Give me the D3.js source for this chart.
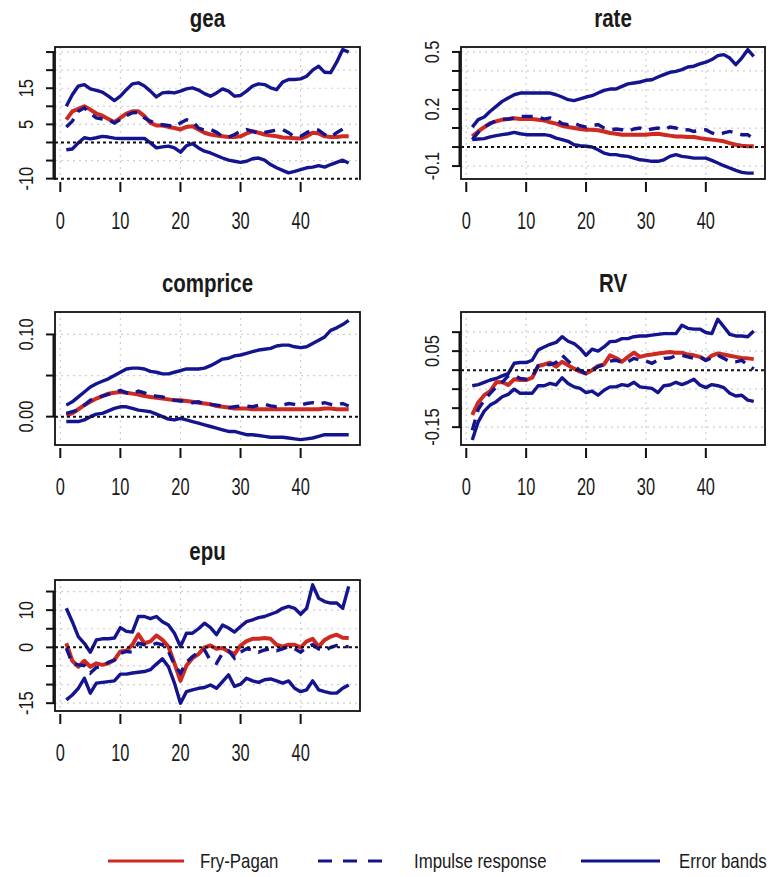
<!DOCTYPE html>
<html>
<head>
<meta charset="utf-8">
<script src="https://cdn.jsdelivr.net/npm/d3@7"></script>
<style>
  html, body { margin: 0; padding: 0; background: #ffffff; }
  svg { display: block; }
</style>
</head>
<body>
<svg id="chart" width="775" height="877"></svg>
<script>
// Horizons of the impulse responses
const horizon = d3.range(1, 49);
const xTicks = [0, 10, 20, 30, 40];

// ---- gea ----
const geaUpper = [10.0,13.2,15.6,16.0,14.8,14.4,13.9,12.8,11.6,12.8, 14.6,16.2,16.5,15.6,14.2,12.6,13.7,13.9,13.7,14.2, 14.8,15.1,14.5,13.5,12.8,13.7,14.8,14.2,12.8,13.0, 14.2,15.6,16.2,16.0,15.1,14.6,16.7,17.4,17.4,17.6, 18.3,20.0,21.1,19.4,19.3,22.2,25.7,25.0];
const geaLower = [-2.0,-1.8,-0.1,1.3,1.0,1.3,1.7,1.5,1.2,1.1, 1.1,1.1,1.1,1.1,-0.1,-1.5,-1.2,-1.0,-1.5,-2.7, -0.9,-0.3,-1.5,-2.4,-2.9,-3.6,-4.3,-4.9,-5.2,-5.5, -5.2,-4.5,-4.3,-4.9,-6.1,-7.0,-7.7,-8.4,-8.0,-7.5, -7.0,-6.8,-6.4,-6.8,-6.1,-5.5,-4.9,-5.7];
const geaFryPagan = [6.3,8.6,9.3,10.0,9.1,8.0,7.4,6.5,5.6,6.8, 8.0,8.6,8.6,7.3,5.4,4.7,4.7,4.3,4.0,3.6, 4.3,4.5,3.6,2.7,2.2,1.9,1.7,1.5,1.5,1.7, 2.5,3.1,2.7,2.2,1.9,1.7,1.4,1.3,1.2,1.1, 1.7,2.7,2.5,1.7,1.5,1.5,1.7,1.7];
const geaImpulse = [4.3,5.9,8.6,9.6,8.0,6.8,6.5,6.3,5.4,6.3, 7.4,8.2,8.3,6.8,5.9,5.1,4.9,4.7,4.3,5.4, 6.3,5.9,4.0,3.4,3.6,2.8,1.7,1.5,2.2,3.1, 3.6,3.1,2.5,2.8,3.1,3.4,3.6,2.7,1.5,1.7, 2.7,3.6,3.4,2.2,1.5,2.7,3.7,3.1];
const geaYTicks = [-10, -5, 0, 5, 10, 15, 20, 25];
const geaYLabels = [-10, 5, 15];

// ---- rate ----
const rateUpper = [0.105,0.144,0.158,0.188,0.214,0.240,0.258,0.275,0.284,0.284, 0.284,0.284,0.284,0.284,0.275,0.263,0.249,0.244,0.253,0.263, 0.270,0.284,0.298,0.305,0.305,0.319,0.332,0.337,0.342,0.351, 0.354,0.368,0.381,0.393,0.398,0.407,0.421,0.425,0.437,0.446, 0.460,0.481,0.486,0.468,0.433,0.468,0.512,0.477];
const rateLower = [0.039,0.042,0.044,0.053,0.060,0.065,0.070,0.077,0.070,0.065, 0.065,0.065,0.065,0.060,0.047,0.039,0.030,0.012,0.007,0.004, 0.000,-0.014,-0.032,-0.040,-0.040,-0.046,-0.049,-0.058,-0.067,-0.070, -0.075,-0.075,-0.067,-0.049,-0.040,-0.049,-0.053,-0.058,-0.058,-0.058, -0.070,-0.084,-0.098,-0.110,-0.123,-0.133,-0.137,-0.137];
const rateFryPagan = [0.056,0.082,0.105,0.126,0.135,0.144,0.147,0.151,0.147,0.147, 0.147,0.144,0.140,0.130,0.123,0.112,0.105,0.100,0.095,0.091, 0.091,0.088,0.082,0.074,0.070,0.065,0.065,0.065,0.065,0.065, 0.068,0.070,0.065,0.060,0.056,0.056,0.053,0.053,0.047,0.042, 0.039,0.035,0.030,0.021,0.012,0.007,0.004,0.004];
const rateImpulse = [0.039,0.077,0.105,0.123,0.140,0.147,0.147,0.153,0.161,0.161, 0.161,0.158,0.147,0.153,0.144,0.123,0.118,0.126,0.112,0.105, 0.112,0.118,0.100,0.091,0.095,0.091,0.082,0.095,0.100,0.088, 0.095,0.100,0.091,0.105,0.100,0.088,0.091,0.082,0.088,0.091, 0.074,0.065,0.074,0.082,0.074,0.065,0.065,0.042];
const rateYTicks = [-0.1, 0, 0.1, 0.2, 0.3, 0.4, 0.5];
const rateYLabels = [-0.1, 0.2, 0.5];

// ---- comprice ----
const compriceUpper = [0.014,0.018,0.024,0.030,0.036,0.040,0.043,0.046,0.050,0.054, 0.058,0.059,0.059,0.058,0.055,0.054,0.052,0.052,0.054,0.056, 0.058,0.058,0.058,0.059,0.062,0.066,0.070,0.071,0.074,0.075, 0.077,0.079,0.081,0.082,0.083,0.086,0.087,0.087,0.085,0.084, 0.085,0.089,0.093,0.097,0.105,0.108,0.112,0.117];
const compriceLower = [-0.006,-0.006,-0.006,-0.004,0.000,0.003,0.004,0.007,0.010,0.012, 0.012,0.010,0.008,0.007,0.006,0.003,0.000,-0.003,-0.004,-0.002, -0.004,-0.006,-0.008,-0.010,-0.012,-0.014,-0.016,-0.018,-0.018,-0.020, -0.022,-0.022,-0.023,-0.024,-0.025,-0.025,-0.025,-0.026,-0.027,-0.028, -0.027,-0.026,-0.024,-0.022,-0.022,-0.022,-0.022,-0.022];
const compriceFryPagan = [0.002,0.004,0.009,0.014,0.018,0.022,0.025,0.028,0.029,0.030, 0.029,0.028,0.027,0.025,0.024,0.023,0.022,0.021,0.020,0.020, 0.019,0.018,0.017,0.016,0.015,0.013,0.012,0.011,0.010,0.010, 0.010,0.009,0.009,0.009,0.009,0.009,0.009,0.009,0.009,0.009, 0.009,0.009,0.009,0.010,0.010,0.009,0.009,0.009];
const compriceImpulse = [0.004,0.006,0.008,0.014,0.020,0.023,0.025,0.027,0.029,0.032, 0.029,0.028,0.031,0.029,0.026,0.025,0.024,0.022,0.020,0.019, 0.019,0.017,0.018,0.016,0.015,0.014,0.013,0.011,0.012,0.013, 0.013,0.012,0.014,0.015,0.013,0.012,0.014,0.016,0.015,0.014, 0.016,0.017,0.015,0.017,0.015,0.014,0.016,0.013];
const compriceYTicks = [0, 0.05, 0.10];
const compriceYLabels = [0, 0.10];

// ---- RV ----
const rvUpper = [-0.041,-0.038,-0.032,-0.026,-0.022,-0.015,-0.009,0.018,0.020,0.020, 0.026,0.053,0.061,0.068,0.073,0.088,0.076,0.070,0.057,0.039, 0.055,0.050,0.061,0.075,0.076,0.083,0.083,0.088,0.090,0.090, 0.092,0.094,0.096,0.096,0.096,0.118,0.110,0.108,0.108,0.099, 0.096,0.134,0.114,0.094,0.090,0.090,0.088,0.103];
const rvLower = [-0.184,-0.136,-0.108,-0.092,-0.083,-0.070,-0.064,-0.050,-0.061,-0.061, -0.061,-0.041,-0.041,-0.035,-0.039,-0.020,-0.035,-0.044,-0.048,-0.059, -0.055,-0.066,-0.053,-0.044,-0.044,-0.038,-0.041,-0.032,-0.044,-0.046, -0.048,-0.059,-0.041,-0.039,-0.032,-0.038,-0.032,-0.024,-0.039,-0.046, -0.038,-0.041,-0.046,-0.061,-0.068,-0.066,-0.079,-0.082];
const rvFryPagan = [-0.118,-0.085,-0.066,-0.055,-0.032,-0.031,-0.039,-0.024,-0.026,-0.026, -0.020,0.011,0.015,0.020,0.009,0.022,0.013,0.004,-0.004,-0.009, 0.000,0.011,0.015,0.039,0.032,0.022,0.035,0.046,0.035,0.039, 0.041,0.044,0.046,0.048,0.046,0.046,0.041,0.039,0.035,0.026, 0.038,0.044,0.041,0.038,0.035,0.032,0.031,0.029];
const rvImpulse = [-0.158,-0.103,-0.079,-0.061,-0.044,-0.032,-0.015,-0.013,-0.022,-0.024, -0.018,0.011,0.015,0.015,0.020,0.039,0.024,0.011,-0.001,-0.009, 0.000,0.009,0.015,0.024,0.026,0.020,0.022,0.031,0.026,0.024, 0.018,0.026,0.031,0.032,0.038,0.039,0.035,0.031,0.035,0.026, 0.032,0.039,0.031,0.022,0.022,0.026,0.013,0.003];
const rvYTicks = [-0.15, -0.10, -0.05, 0, 0.05, 0.10];
const rvYLabels = [-0.15, 0.05];

// ---- epu ----
const epuUpper = [10.5,6.9,2.9,1.1,-1.3,2.0,2.3,2.3,2.5,5.3, 4.3,4.1,8.3,8.3,7.7,8.3,6.9,6.0,3.8,0.2, 3.8,3.8,5.0,6.5,5.3,3.4,6.0,5.2,4.1,5.6, 6.9,7.4,8.0,8.3,8.9,9.5,10.5,11.0,10.5,8.9, 10.5,16.8,13.2,12.3,11.9,11.9,10.5,16.4];
const epuLower = [-14.1,-12.8,-11.0,-8.3,-12.3,-9.6,-9.4,-9.2,-9.0,-7.2, -7.2,-6.9,-6.7,-6.5,-6.0,-4.5,-3.1,-5.2,-9.6,-15.0, -11.9,-11.4,-11.0,-10.8,-10.1,-11.0,-9.2,-7.4,-10.5,-9.9, -8.3,-9.0,-9.4,-8.7,-8.5,-9.0,-9.6,-9.0,-11.0,-11.9, -11.4,-9.0,-11.4,-11.9,-12.3,-12.3,-11.0,-10.1];
const epuFryPagan = [1.1,-3.6,-5.2,-3.6,-5.2,-4.3,-4.7,-4.3,-3.4,-1.1, -0.9,0.7,3.5,1.1,1.6,3.2,2.0,0.2,-4.3,-9.0, -4.9,-2.9,-1.8,0.0,0.5,-0.4,-0.2,-1.1,-1.8,0.5, 1.7,2.3,2.3,2.5,2.3,0.7,0.2,0.7,0.7,0.0, 1.6,2.3,0.2,2.0,2.9,3.4,2.6,2.5];
const epuImpulse = [-0.2,-4.3,-4.7,-4.9,-6.9,-5.4,-5.2,-4.0,-3.4,-1.6, -1.1,-1.3,1.1,0.7,0.5,1.1,0.7,-1.1,-4.7,-6.9, -4.0,-2.5,-1.3,-0.7,-3.6,-4.3,-1.6,-0.9,-2.9,-1.3, -0.4,-0.7,-1.3,-0.7,-0.4,-0.9,-0.4,0.2,-0.4,-1.3, 0.0,0.7,-0.4,-0.9,0.0,0.5,0.2,0.2];
const epuYTicks = [-15, -10, -5, 0, 5, 10, 15];
const epuYLabels = [-15, 0, 10];

// Legend entries
const legendLabels = ["Fry-Pagan", "Impulse response", "Error bands"];

// ---- styling ----
const RED = "#cf2a22";
const BLUE = "#14148f";
const FONT = "'Liberation Sans', Arial, Helvetica, sans-serif";
const NARROW = 0.82;   // horizontal compression giving a narrow sans face

const locale = d3.formatLocale({decimal: ".", thousands: ",", grouping: [3], currency: ["", ""], minus: "-"});

// Panel layout: plot frames in pixels
const cols = [[55, 360], [461, 765]];
const rows = [[47, 179], [312, 445], [580, 711]];

const panels = [
  {title: "gea", upper: geaUpper, lower: geaLower, fp: geaFryPagan, irf: geaImpulse,
   domain: [-10.1, 26.4], ticks: geaYTicks, labels: geaYLabels, fmt: locale.format("d"), refs: [0, -10], col: 0, row: 0},
  {title: "rate", upper: rateUpper, lower: rateLower, fp: rateFryPagan, irf: rateImpulse,
   domain: [-0.168, 0.526], ticks: rateYTicks, labels: rateYLabels, fmt: locale.format(".1f"), refs: [0], col: 1, row: 0},
  {title: "comprice", upper: compriceUpper, lower: compriceLower, fp: compriceFryPagan, irf: compriceImpulse,
   domain: [-0.0345, 0.1273], ticks: compriceYTicks, labels: compriceYLabels, fmt: locale.format(".2f"), refs: [0], col: 0, row: 1},
  {title: "RV", upper: rvUpper, lower: rvLower, fp: rvFryPagan, irf: rvImpulse,
   domain: [-0.197, 0.153], ticks: rvYTicks, labels: rvYLabels, fmt: locale.format(".2f"), refs: [0], col: 1, row: 1},
  {title: "epu", upper: epuUpper, lower: epuLower, fp: epuFryPagan, irf: epuImpulse,
   domain: [-17.1, 18.1], ticks: epuYTicks, labels: epuYLabels, fmt: locale.format("d"), refs: [0], col: 0, row: 2}
];

const svg = d3.select("#chart");
svg.append("rect").attr("width", 775).attr("height", 877).attr("fill", "#ffffff");

function addText(parent, x, y, str, opts) {
  const o = Object.assign({size: 20, weight: "normal", sx: NARROW, sy: 1, rotate: 0, anchor: "middle", fill: "#1a1a1a"}, opts);
  parent.append("text")
    .attr("transform", `translate(${x},${y}) rotate(${o.rotate}) scale(${o.sx},${o.sy})`)
    .attr("text-anchor", o.anchor)
    .attr("fill", o.fill)
    .style("font-family", FONT)
    .style("font-size", o.size + "px")
    .style("font-weight", o.weight)
    .text(str);
}

panels.forEach(p => {
  const [x0, x1] = cols[p.col];
  const [y0, y1] = rows[p.row];
  const x = d3.scaleLinear().domain([1 - 1.88, 48 + 1.88]).range([x0, x1]);
  const y = d3.scaleLinear().domain(p.domain).range([y1, y0]);
  const g = svg.append("g");

  // light dotted grid
  const grid = g.append("g").attr("stroke", "#cfcfcf").attr("stroke-width", 1.2).attr("stroke-dasharray", "2,4");
  xTicks.forEach(t => grid.append("line").attr("x1", x(t)).attr("x2", x(t)).attr("y1", y0).attr("y2", y1));
  p.ticks.forEach(t => grid.append("line").attr("x1", x0).attr("x2", x1).attr("y1", y(t)).attr("y2", y(t)));

  const line = vals => d3.line().x((d, i) => x(horizon[i])).y(d => y(d))(vals);

  // error bands
  [p.upper, p.lower].forEach(vals => {
    g.append("path").attr("d", line(vals)).attr("fill", "none")
      .attr("stroke", BLUE).attr("stroke-width", 3.4).attr("stroke-linejoin", "round");
  });
  // Fry-Pagan median target
  g.append("path").attr("d", line(p.fp)).attr("fill", "none")
    .attr("stroke", RED).attr("stroke-width", 4).attr("stroke-linejoin", "round");
  // impulse response
  g.append("path").attr("d", line(p.irf)).attr("fill", "none")
    .attr("stroke", BLUE).attr("stroke-width", 3.4).attr("stroke-dasharray", "11,8");

  // frame
  g.append("rect").attr("x", x0).attr("y", y0).attr("width", x1 - x0).attr("height", y1 - y0)
    .attr("fill", "none").attr("stroke", "#111").attr("stroke-width", 1.8);

  // dotted reference lines
  p.refs.forEach(v => {
    const yy = y(v);
    if (Math.abs(yy - y1) < 2) {
      g.append("line").attr("x1", x0 + 1).attr("x2", x1 - 1).attr("y1", y1).attr("y2", y1)
        .attr("stroke", "#ffffff").attr("stroke-width", 2.4);
    }
    g.append("line").attr("x1", x0).attr("x2", x1).attr("y1", Math.min(yy, y1)).attr("y2", Math.min(yy, y1))
      .attr("stroke", "#111").attr("stroke-width", 2).attr("stroke-dasharray", "3,3");
  });

  // x axis
  const ax = g.append("g").attr("stroke", "#111").attr("stroke-width", 2);
  xTicks.forEach(t => ax.append("line").attr("x1", x(t)).attr("x2", x(t)).attr("y1", y1 + 3).attr("y2", y1 + 13));
  xTicks.forEach(t => addText(g, x(t), y1 + 50, locale.format("d")(t), {size: 20, sy: 1.15}));

  // y axis
  const ay = g.append("g").attr("stroke", "#111").attr("stroke-width", 2);
  const tMin = d3.min(p.ticks), tMax = d3.max(p.ticks);
  ay.append("line").attr("x1", x0 - 1.5).attr("x2", x0 - 1.5).attr("y1", y(tMax)).attr("y2", Math.min(y(tMin), y1));
  p.ticks.forEach(t => ay.append("line").attr("x1", x0 - 9).attr("x2", x0).attr("y1", y(t)).attr("y2", y(t)));
  p.labels.forEach(t => addText(g, x0 - 22, y(t), p.fmt(t), {size: 20, rotate: -90}));

  // title
  addText(g, (x0 + x1) / 2, y0 - 20, p.title, {size: 25, weight: "bold"});
});

// legend
const lg = svg.append("g");
const legendY = 861;
const legendItems = [
  {x1: 108, x2: 184, tx: 200, color: RED, dash: null},
  {x1: 318, x2: 383, tx: 414, color: BLUE, dash: "14,11"},
  {x1: 581, x2: 660, tx: 679, color: BLUE, dash: null}
];
legendItems.forEach((it, i) => {
  lg.append("line").attr("x1", it.x1).attr("x2", it.x2).attr("y1", legendY).attr("y2", legendY)
    .attr("stroke", it.color).attr("stroke-width", 3)
    .attr("stroke-dasharray", it.dash);
  addText(lg, it.tx, legendY + 7, legendLabels[i], {size: 20.5, anchor: "start"});
});
</script>
</body>
</html>
